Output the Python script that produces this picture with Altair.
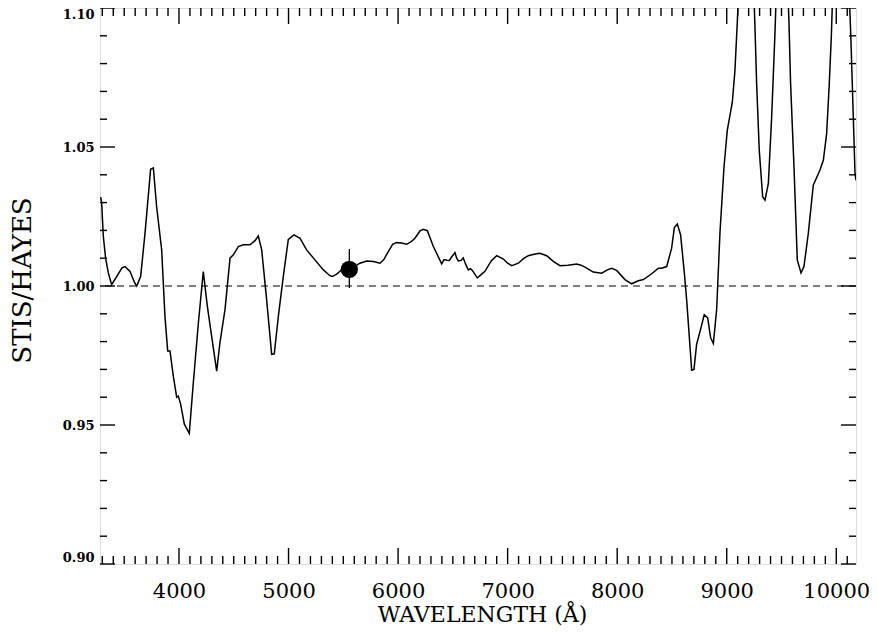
import altair as alt
import pandas as pd

# ---- data ----
wavelength = [3285, 3294, 3309, 3330, 3355, 3385, 3431, 3480, 3507, 3553, 3595, 3614, 3650, 3690,
              3741, 3766, 3796, 3842, 3872, 3897, 3918, 3948, 3979, 3994, 4015, 4049, 4094, 4131,
              4177, 4222, 4259, 4298, 4344, 4374, 4420, 4466, 4496, 4542, 4587, 4648, 4694, 4724,
              4755, 4800, 4846, 4870, 4907, 4952, 4998, 5050, 5089, 5104, 5165, 5241, 5318, 5378,
              5400, 5439, 5500, 5555, 5622, 5652, 5713, 5774, 5835, 5870, 5911, 5950, 5987, 6030,
              6078, 6120, 6154, 6200, 6230, 6267, 6322, 6398, 6419, 6445, 6468, 6490, 6519, 6535,
              6550, 6575, 6595, 6620, 6641, 6660, 6678, 6723, 6760, 6793, 6850, 6900, 6961, 7000,
              7037, 7098, 7150, 7189, 7250, 7295, 7356, 7420, 7478, 7550, 7630, 7670, 7706, 7782,
              7858, 7910, 7950, 7995, 8071, 8132, 8193, 8239, 8315, 8376, 8406, 8452, 8497, 8522,
              8549, 8579, 8613, 8634, 8658, 8680, 8701, 8725, 8765, 8795, 8826, 8853, 8878, 8908,
              8938, 8975, 9005, 9051, 9075, 9097, 9120, 9180, 9240, 9260, 9273, 9297, 9328, 9349,
              9380, 9410, 9440, 9460, 9505, 9550, 9568, 9583, 9614, 9644, 9678, 9705, 9745, 9790,
              9851, 9882, 9912, 9936, 9955, 9975, 10035, 10100, 10125, 10134, 10171, 10180]
ratio = [1.032, 1.030, 1.018, 1.010, 1.0047, 1.0005, 1.0034, 1.0065, 1.0070, 1.0052, 1.0012, 1.0000,
         1.0034, 1.0190, 1.0420, 1.0425, 1.0285, 1.0130, 0.9890, 0.9766, 0.9766, 0.9676, 0.9600,
         0.9604, 0.9575, 0.9503, 0.9470, 0.9653, 0.9867, 1.0052, 0.9927, 0.9820, 0.9694, 0.9796,
         0.9915, 1.0100, 1.0112, 1.0142, 1.0148, 1.0148, 1.0163, 1.0180, 1.0130, 0.9951, 0.9754,
         0.9756, 0.9891, 1.0034, 1.0168, 1.0184, 1.0175, 1.0172, 1.0130, 1.0094, 1.0058, 1.0037,
         1.0034, 1.0043, 1.0063, 1.0060, 1.0075, 1.0082, 1.0090, 1.0088, 1.0082, 1.0095, 1.0124,
         1.0150, 1.0156, 1.0155, 1.0150, 1.0160, 1.0172, 1.0198, 1.0204, 1.0199, 1.0142, 1.0080,
         1.0095, 1.0093, 1.0092, 1.0105, 1.0120, 1.0100, 1.0090, 1.0092, 1.0101, 1.0075, 1.0058,
         1.0062, 1.0056, 1.0029, 1.0042, 1.0053, 1.0090, 1.0109, 1.0097, 1.0082, 1.0073, 1.0082,
         1.0100, 1.0109, 1.0115, 1.0118, 1.0109, 1.0088, 1.0073, 1.0075, 1.0079, 1.0075, 1.0068,
         1.0050, 1.0046, 1.0058, 1.0064, 1.0056, 1.0023, 1.0008, 1.0019, 1.0023, 1.0044, 1.0064,
         1.0064, 1.0070, 1.0136, 1.0210, 1.0223, 1.0184, 1.0047, 0.9951, 0.9819, 0.9697, 0.9700,
         0.9790, 0.9850, 0.9897, 0.9885, 0.9814, 0.9793, 0.9915, 1.0190, 1.0428, 1.0560, 1.0661,
         1.0775, 1.0953, 1.1150, 1.1500, 1.1150, 1.0900, 1.0727, 1.0488, 1.0321, 1.0309, 1.0369,
         1.0607, 1.0906, 1.1150, 1.1400, 1.1150, 1.0950, 1.0727, 1.0428, 1.0094, 1.0047, 1.0070,
         1.0190, 1.0363, 1.0417, 1.0452, 1.0548, 1.0727, 1.0900, 1.1150, 1.1500, 1.1150, 1.0980,
         1.0882, 1.0405, 1.0380]

point_wave = [5555]
point_ratio = [1.0060]
point_low = [0.9993]
point_high = [1.0133]

reference_level = [1.0]

x_domain = [3279, 10180]
y_domain = [0.90, 1.10]

x_major = [4000, 5000, 6000, 7000, 8000, 9000, 10000]
x_minor = [v for v in range(3300, 10200, 100) if v % 1000 != 0]
y_major = [0.90, 0.95, 1.00, 1.05, 1.10]
y_minor = [round(0.90 + 0.01 * i, 2) for i in range(1, 20) if i % 5 != 0]

W, H = 756, 556
SERIF = "DejaVu Serif"
INK = "#000000"

curve = pd.DataFrame({"wave": wavelength, "ratio": ratio})
pt = pd.DataFrame({"wave": point_wave, "ratio": point_ratio, "lo": point_low, "hi": point_high})
ref = pd.DataFrame({"level": reference_level})

xs = alt.Scale(domain=x_domain, nice=False, zero=False)
ys = alt.Scale(domain=y_domain, nice=False, zero=False)

x_axis = alt.Axis(values=x_major, format="d", ticks=False, domain=False, grid=False,
                  offset=7,
                  labelFont=SERIF, labelFontSize=21, labelColor=INK, labelPadding=20,
                  labelBaseline="middle",
                  labelFlush=False, labelOverlap=False, labelBound=False,
                  title="WAVELENGTH (Å)", titleFont=SERIF, titleFontSize=22,
                  titleFontWeight="normal", titleColor=INK, titleX=382, titleY=43,
                  titleAlign="center", titleBaseline="middle")
y_axis = alt.Axis(values=y_major, format=".2f", ticks=False, domain=False, grid=False,
                  labelFont=SERIF, labelFontSize=13, labelFontWeight="bold", labelColor=INK,
                  labelPadding=6, labelFlush=True, labelOverlap=False,
                  title="STIS/HAYES", titleFont=SERIF, titleFontSize=26,
                  titleFontWeight="normal", titleColor=INK, titleX=-78, titleY=272,
                  titleAngle=270, titleAlign="center", titleBaseline="middle")


def X(field):
    return alt.X(field, scale=xs, axis=x_axis)


def Y(field):
    return alt.Y(field, scale=ys, axis=y_axis)


line = alt.Chart(curve).mark_line(color=INK, strokeWidth=1.5, clip=True).encode(
    x=X("wave:Q"), y=Y("ratio:Q"), order="wave:Q",
)

dashed = alt.Chart(ref).mark_rule(color=INK, strokeWidth=1.2, strokeDash=[7, 5]).encode(
    y=Y("level:Q")
)

errbar = alt.Chart(pt).mark_rule(color=INK, strokeWidth=1.3).encode(
    x=X("wave:Q"), y=Y("lo:Q"), y2="hi:Q",
)
marker = alt.Chart(pt).mark_circle(color=INK, opacity=1, size=300).encode(
    x=X("wave:Q"), y=Y("ratio:Q"),
)


def yticks(values, length):
    df = pd.DataFrame({"v": values})
    base = alt.Chart(df).mark_rule(color=INK, strokeWidth=1.4)
    left = base.encode(y=Y("v:Q"), x=alt.value(0), x2=alt.value(length))
    right = base.encode(y=Y("v:Q"), x=alt.value(W), x2=alt.value(W - length))
    return [left, right]


def xticks(values, length):
    df = pd.DataFrame({"v": values})
    base = alt.Chart(df).mark_rule(color=INK, strokeWidth=1.4)
    bottom = base.encode(x=X("v:Q"), y=alt.value(H), y2=alt.value(H - length))
    top = base.encode(x=X("v:Q"), y=alt.value(0), y2=alt.value(length))
    return [bottom, top]


tick_layers = yticks(y_major, 15) + yticks(y_minor, 7) + xticks(x_major, 16) + xticks(x_minor, 8)

chart = alt.layer(line, dashed, errbar, marker, *tick_layers).properties(
    width=W, height=H,
    autosize=alt.AutoSizeParams(type="none"),
    padding={"left": 92, "top": 0, "right": 13, "bottom": 62},
).configure_view(stroke=INK, strokeWidth=1.6).configure(background="white")

chart.save("out.html", embed_options={"renderer": "svg", "actions": False})
